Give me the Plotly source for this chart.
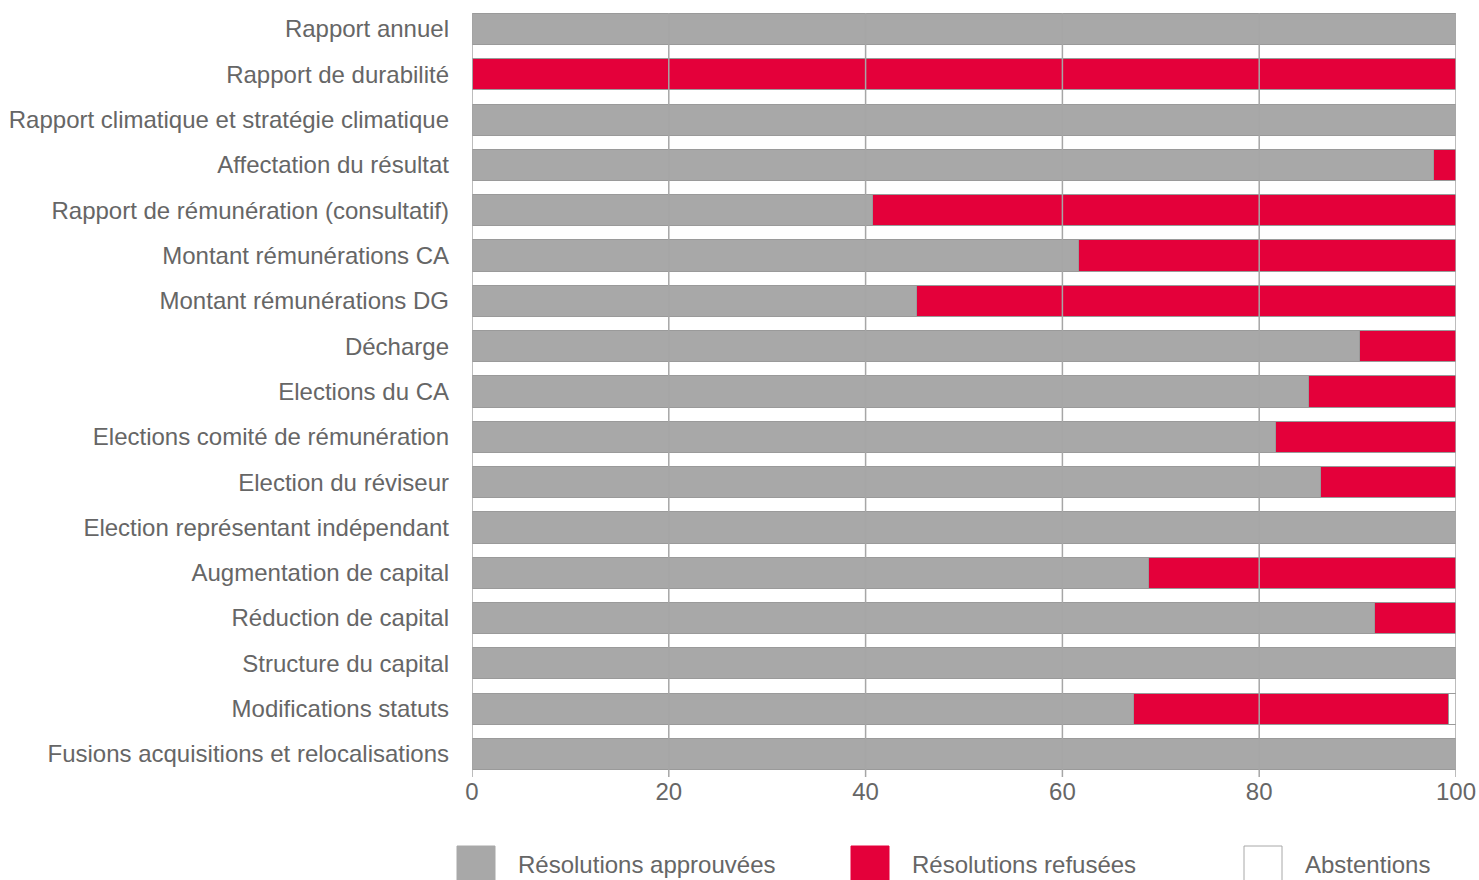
import plotly.graph_objects as go

categories = [
    "Rapport annuel",
    "Rapport de durabilité",
    "Rapport climatique et stratégie climatique",
    "Affectation du résultat",
    "Rapport de rémunération (consultatif)",
    "Montant rémunérations CA",
    "Montant rémunérations DG",
    "Décharge",
    "Elections du CA",
    "Elections comité de rémunération",
    "Election du réviseur",
    "Election représentant indépendant",
    "Augmentation de capital",
    "Réduction de capital",
    "Structure du capital",
    "Modifications statuts",
    "Fusions acquisitions et relocalisations",
]
approuvees = [100, 0, 100, 97.7, 40.7, 61.6, 45.2, 90.2, 85.0, 81.7, 86.2, 100, 68.8, 91.7, 100, 67.2, 100]
refusees = [0, 100, 0, 2.3, 59.3, 38.4, 54.8, 9.8, 15.0, 18.3, 13.8, 0, 31.2, 8.3, 0, 32.0, 0]
abstentions = [0, 0, 0, 0, 0, 0, 0, 0, 0, 0, 0, 0, 0, 0, 0, 0.8, 0]

series_names = ["Résolutions approuvées", "Résolutions refusées", "Abstentions"]
series_values = [approuvees, refusees, abstentions]
series_colors = ["#a8a8a8", "#e4003a", "#ffffff"]
x_ticks = [0, 20, 40, 60, 80, 100]

FONT = "Liberation Sans, Arial, sans-serif"
TEXT = "#666666"
GRID = "#a6a6a6"
FS = 24

fig = go.Figure()
for name, vals, col in zip(series_names, series_values, series_colors):
    fig.add_trace(go.Bar(
        y=categories, x=vals, name=name, orientation="h",
        marker=dict(color=col, line=dict(color="#9a9a9a", width=1)),
        showlegend=False,
    ))

# plot area in page px: x 472..1456, y 8..777
PX0, PW = 472.0, 984.0
PYB, PH = 777.0, 769.0

# gridlines drawn above bars
for t in x_ticks:
    fig.add_shape(type="line", xref="x", yref="paper", x0=t, x1=t,
                  y0=0, y1=(PYB - 13) / PH,
                  line=dict(color=GRID, width=1.5), layer="above")

# custom legend with large squares
leg_sq_x = [457, 851, 1244]
for name, col, px in zip(series_names, series_colors, leg_sq_x):
    fig.add_shape(type="rect", xref="paper", yref="paper",
                  x0=(px - PX0) / PW, x1=(px + 38 - PX0) / PW,
                  y0=(PYB - 846) / PH, y1=(PYB - 892) / PH,
                  fillcolor=col,
                  line=dict(color="#a8a8a8" if col == "#ffffff" else col, width=1),
                  layer="above")
    fig.add_annotation(xref="paper", yref="paper", x=(px + 59 - PX0) / PW, y=(PYB - 864) / PH,
                       text=name, showarrow=False, xanchor="left", yanchor="middle",
                       font=dict(family=FONT, size=FS, color=TEXT))

fig.update_layout(
    width=1479, height=880,
    barmode="stack", bargap=0.31,
    plot_bgcolor="white", paper_bgcolor="white",
    margin=dict(l=472, r=23, t=8, b=103, autoexpand=False),
    font=dict(family=FONT, size=FS, color=TEXT),
    xaxis=dict(range=[0, 100], tickvals=x_ticks, showgrid=False, zeroline=False,
               ticks="", ticklabelstandoff=-2,
               tickfont=dict(family=FONT, size=FS, color=TEXT), fixedrange=True),
    yaxis=dict(range=[16.508, -0.464], showgrid=False, zeroline=False, ticks="",
               ticklabelstandoff=22, automargin=False, fixedrange=True,
               tickfont=dict(family=FONT, size=FS, color=TEXT)),
)

fig.write_html("out.html", config={"displayModeBar": False, "staticPlot": True},
               post_script="document.body.style.margin='0';document.body.style.overflow='hidden';")
